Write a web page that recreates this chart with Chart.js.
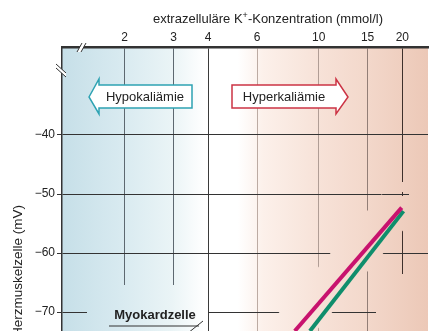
<!DOCTYPE html>
<html>
<head>
<meta charset="utf-8">
<script src="https://cdn.jsdelivr.net/npm/chart.js@4.4.1/dist/chart.umd.min.js"></script>
<style>
html, body { margin: 0; padding: 0; background: #fff; }
#wrap { width: 442px; height: 331px; position: relative; }
</style>
</head>
<body>
<div id="wrap"><canvas id="c"></canvas></div>
<script>
// extrazelluläre K+-Konzentration (mmol/l), log. Achse oben
var kTicks = [2, 3, 4, 6, 10, 15, 20];
var mvTicks = [-70, -60, -50, -40];
// Myokardzelle (magenta)
var kMyokard = [8.2, 19.9];
var mvMyokard = [-73.2, -52.3];
// K+-Gleichgewichtspotential (gruen)
var kNernst = [9.3, 20.2];
var mvNernst = [-73.2, -52.9];

var gridCol = { 2: '#5d6870', 3: '#5d6870', 4: '#3b3b3b', 6: '#bcaba3', 10: '#b09d95', 15: '#927e77', 20: '#3e302c' };
var FONT = "'Liberation Sans', Arial, sans-serif";

function bgGrad(ctx, a) {
  var g = ctx.createLinearGradient(a.left, 0, a.right, 0);
  g.addColorStop(0, '#c6dfe8');
  g.addColorStop(0.16, '#d8eaf0');
  g.addColorStop(0.30, '#eaf4f6');
  g.addColorStop(0.39, '#ffffff');
  g.addColorStop(0.48, '#ffffff');
  g.addColorStop(0.55, '#fcf0ea');
  g.addColorStop(0.70, '#f7e2d8');
  g.addColorStop(0.83, '#f3d8cb');
  g.addColorStop(1, '#ecc8b7');
  return g;
}

function pts(xs, ys) {
  return xs.map(function (x, i) { return { x: x, y: ys[i] }; });
}

function noPad(s) {
  s.paddingTop = 0; s.paddingBottom = 0; s.paddingLeft = 0; s.paddingRight = 0;
}

function arrowBox(ctx, path, color, text, tx) {
  ctx.beginPath();
  ctx.moveTo(path[0][0], path[0][1]);
  for (var i = 1; i < path.length; i++) ctx.lineTo(path[i][0], path[i][1]);
  ctx.closePath();
  ctx.fillStyle = '#fff';
  ctx.fill();
  ctx.strokeStyle = color;
  ctx.lineWidth = 1.5;
  ctx.lineJoin = 'miter';
  ctx.stroke();
  ctx.fillStyle = '#222';
  ctx.font = '13px ' + FONT;
  ctx.textAlign = 'center';
  ctx.textBaseline = 'middle';
  ctx.fillText(text, tx, 97);
}

var deko = {
  id: 'deko',
  beforeDraw: function (chart) {
    var ctx = chart.ctx, a = chart.chartArea;
    ctx.save();
    ctx.fillStyle = bgGrad(ctx, a);
    ctx.fillRect(a.left, a.top, a.right - a.left, a.bottom - a.top);
    ctx.restore();
  },
  beforeDatasetsDraw: function (chart) {
    // Gitter um Beschriftung und Kurven aussparen
    var ctx = chart.ctx, a = chart.chartArea;
    var g = bgGrad(ctx, a);
    ctx.save();
    ctx.beginPath();
    ctx.rect(a.left, a.top, a.right - a.left, a.bottom - a.top);
    ctx.clip();
    ctx.fillStyle = g;
    ctx.fillRect(87, 285, 121, 50);
    ctx.fillRect(409, 190, 22, 8);
    ctx.fillRect(399, 182, 6, 10);
    ctx.fillRect(399, 196, 6, 34);
    ctx.fillRect(376, 274, 55, 60);
    var m = chart.getDatasetMeta(0).data;
    var p0 = m[0], p1 = m[m.length - 1];
    var dx = p1.x - p0.x, dy = p1.y - p0.y, L = Math.hypot(dx, dy);
    var ux = dx / L, uy = dy / L, nx = uy, ny = -ux, off = 4;
    ctx.strokeStyle = g;
    ctx.lineWidth = 40;
    ctx.lineCap = 'butt';
    ctx.beginPath();
    ctx.moveTo(p0.x + nx * off - ux * 40, p0.y + ny * off - uy * 40);
    ctx.lineTo(p1.x + nx * off - ux * 3, p1.y + ny * off - uy * 3);
    ctx.stroke();
    ctx.restore();
  },
  afterDatasetsDraw: function (chart) {
    var ctx = chart.ctx;
    ctx.save();
    arrowBox(ctx, [[89, 97], [99, 79], [99, 85], [192, 85], [192, 108], [99, 108], [99, 114]], '#2ea3b3', 'Hypokaliämie', 145);
    arrowBox(ctx, [[232, 85], [336, 85], [336, 79], [348, 97], [336, 114], [336, 108], [232, 108]], '#cc3344', 'Hyperkaliämie', 284);
    // Myokardzelle
    ctx.fillStyle = '#222';
    ctx.font = 'bold 13px ' + FONT;
    ctx.textAlign = 'center';
    ctx.textBaseline = 'alphabetic';
    ctx.fillText('Myokardzelle', 155, 319);
    ctx.strokeStyle = '#333';
    ctx.lineWidth = 1;
    ctx.beginPath();
    ctx.moveTo(109, 326);
    ctx.lineTo(199, 326);
    ctx.moveTo(188, 333);
    ctx.lineTo(203, 321);
    ctx.stroke();
    ctx.restore();
  },
  afterDraw: function (chart) {
    var ctx = chart.ctx;
    ctx.save();
    // x-Achsentitel mit hochgestelltem +
    var s1 = 'extrazelluläre K', s2 = '+', s3 = '-Konzentration (mmol/l)';
    ctx.fillStyle = '#222';
    ctx.textBaseline = 'alphabetic';
    ctx.textAlign = 'left';
    ctx.font = '13px ' + FONT;
    var w1 = ctx.measureText(s1).width, w3 = ctx.measureText(s3).width;
    ctx.font = '9px ' + FONT;
    var w2 = ctx.measureText(s2).width;
    var x = 268 - (w1 + w2 + w3) / 2, y = 23;
    ctx.font = '13px ' + FONT;
    ctx.fillText(s1, x, y);
    ctx.font = '9px ' + FONT;
    ctx.fillText(s2, x + w1, y - 5);
    ctx.font = '13px ' + FONT;
    ctx.fillText(s3, x + w1 + w2, y);
    // y-Achsentitel (abgeschnitten)
    ctx.font = '13.5px ' + FONT;
    ctx.translate(22, 205);
    ctx.rotate(-Math.PI / 2);
    ctx.textAlign = 'right';
    ctx.fillText('Ruhemembranpotential der Herzmuskelzelle (mV)', 0, 0);
    ctx.restore();
    // Achsenunterbrechungen
    ctx.save();
    ctx.fillStyle = '#fff';
    ctx.beginPath();
    ctx.moveTo(77, 52); ctx.lineTo(82, 43); ctx.lineTo(86, 43); ctx.lineTo(81, 52); ctx.closePath();
    ctx.fill();
    ctx.beginPath();
    ctx.moveTo(56, 64); ctx.lineTo(66, 73); ctx.lineTo(66, 77); ctx.lineTo(56, 68); ctx.closePath();
    ctx.fill();
    ctx.strokeStyle = '#333';
    ctx.lineWidth = 1;
    ctx.beginPath();
    ctx.moveTo(77, 52); ctx.lineTo(82, 43);
    ctx.moveTo(81, 52); ctx.lineTo(86, 43);
    ctx.moveTo(56, 64); ctx.lineTo(66, 73);
    ctx.moveTo(56, 68); ctx.lineTo(66, 77);
    ctx.stroke();
    ctx.restore();
  }
};

new Chart(document.getElementById('c'), {
  type: 'line',
  data: {
    datasets: [{
      label: 'Myokardzelle',
      data: pts(kMyokard, mvMyokard),
      borderColor: '#c8126e',
      borderWidth: 4,
      borderCapStyle: 'butt',
      pointRadius: 0,
      tension: 0
    }, {
      label: 'K+-Gleichgewichtspotential',
      data: pts(kNernst, mvNernst),
      borderColor: '#0f8e6c',
      borderWidth: 4,
      borderCapStyle: 'butt',
      pointRadius: 0,
      tension: 0
    }]
  },
  options: {
    responsive: true,
    maintainAspectRatio: false,
    animation: false,
    layout: { padding: { left: 0, right: 14, top: 0, bottom: 0 } },
    plugins: { legend: { display: false }, tooltip: { enabled: false } },
    scales: {
      x: {
        type: 'logarithmic',
        position: 'top',
        min: 1.19,
        max: 24.75,
        afterBuildTicks: function (s) { s.ticks = kTicks.map(function (v) { return { value: v }; }); },
        afterFit: function (s) { s.height = 47; noPad(s); },
        ticks: {
          autoSkip: false,
          maxRotation: 0,
          padding: 2,
          color: '#222',
          font: { family: FONT, size: 12 },
          callback: function (v) { return String(v); }
        },
        grid: {
          drawTicks: false,
          lineWidth: 1,
          color: function (c) { return c.tick ? (gridCol[c.tick.value] || '#555') : '#555'; }
        },
        border: { color: '#333', width: 2.5 }
      },
      y: {
        min: -73.2,
        max: -25.1,
        afterBuildTicks: function (s) { s.ticks = mvTicks.map(function (v) { return { value: v }; }); },
        afterFit: function (s) { s.width = 62; noPad(s); },
        ticks: {
          padding: 2,
          color: '#222',
          font: { family: FONT, size: 12 },
          callback: function (v) { return '\u2212' + Math.abs(v); }
        },
        grid: { color: '#333', lineWidth: 1, tickLength: 5 },
        border: { color: '#333', width: 1.5 }
      }
    }
  },
  plugins: [deko]
});
</script>
</body>
</html>
